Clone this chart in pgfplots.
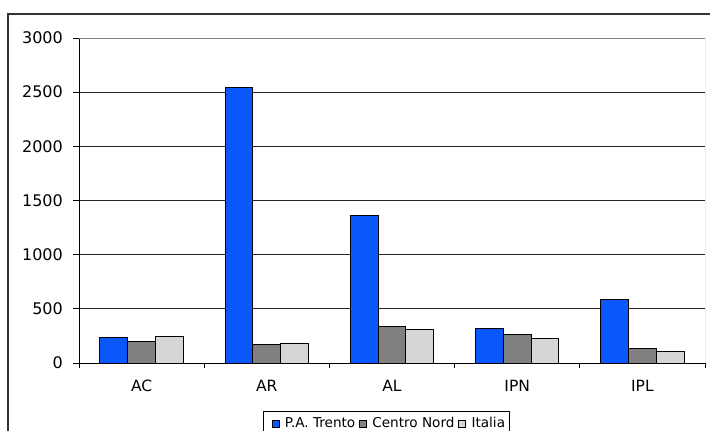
\documentclass[border=0pt]{standalone}
\usepackage{pgfplots}
\pgfplotsset{compat=1.18}
\usepackage{fontspec}
\setmainfont{DejaVu Sans}
\definecolor{cblue}{RGB}{10,88,250}
\definecolor{cgray}{RGB}{128,128,128}
\definecolor{clight}{RGB}{214,214,214}
\definecolor{cframe}{RGB}{51,51,51}
\begin{document}
\begin{tikzpicture}[x=1pt,y=1pt]
\useasboundingbox (0,0) rectangle (710,431);
\draw[cframe, line width=1.8pt] (7.9,-10) -- (7.9,417) -- (720,417);
\begin{axis}[
  at={(79pt,68pt)}, anchor=south west,
  scale only axis, width=626pt, height=325pt,
  ybar=0pt, bar width=27.8pt,
  xmin=-0.5, xmax=4.5, ymin=0, ymax=3000,
  xtick={0,...,4}, xticklabels={AC,AR,AL,IPN,IPL},
  minor xtick={-0.5,0.5,...,4.5},
  ytick={0,500,...,3000},
  axis x line*=bottom, axis y line*=left,
  axis line style={black, line width=0.9pt},
  tick align=outside,
  major tick length=6pt, minor tick length=5pt,
  major x tick style={draw=none},
  minor x tick style={black, line width=0.9pt},
  ytick style={black, line width=0.9pt},
  ymajorgrids, grid style={black!85, line width=0.8pt},
  /pgf/number format/assume math mode=true,
  /pgf/number format/1000 sep={},
  yticklabel style={font=\fontsize{16}{18}\selectfont, inner sep=0pt, anchor=east, xshift=-10pt},
  xticklabel style={font=\fontsize{15.5}{17}\selectfont, inner sep=0pt, anchor=north, yshift=-11pt},
  legend style={at={(0.294,-0.1477)}, anchor=north west, legend columns=3,
    draw=black, line width=0.8pt, inner xsep=4.5pt, inner ysep=3pt,
    font=\fontsize{13.6}{15}\selectfont,
    nodes={inner xsep=0pt, inner ysep=3pt},
    /tikz/every even column/.append style={column sep=0pt}},
  legend cell align=left,
  legend image code/.code={\path[draw=none, fill=none] (0pt,0pt) (17pt,0pt); \draw[#1, line width=0.6pt] (4pt,-3.5pt) rectangle (11pt,3.5pt);},
]
\addplot[fill=cblue, draw=black, line width=0.9pt] coordinates {(0,235) (1,2545) (2,1363) (3,318) (4,585)};
\addplot[fill=cgray, draw=black, line width=0.9pt] coordinates {(0,198) (1,175) (2,336) (3,265) (4,133)};
\addplot[fill=clight, draw=black, line width=0.9pt] coordinates {(0,244) (1,185) (2,308) (3,228) (4,105)};
\legend{P.A. Trento, Centro Nord, Italia}
\draw[gray, line width=0.9pt] (rel axis cs:0,1) -- (rel axis cs:1,1) -- (rel axis cs:1,0);
\end{axis}
\end{tikzpicture}
\end{document}
